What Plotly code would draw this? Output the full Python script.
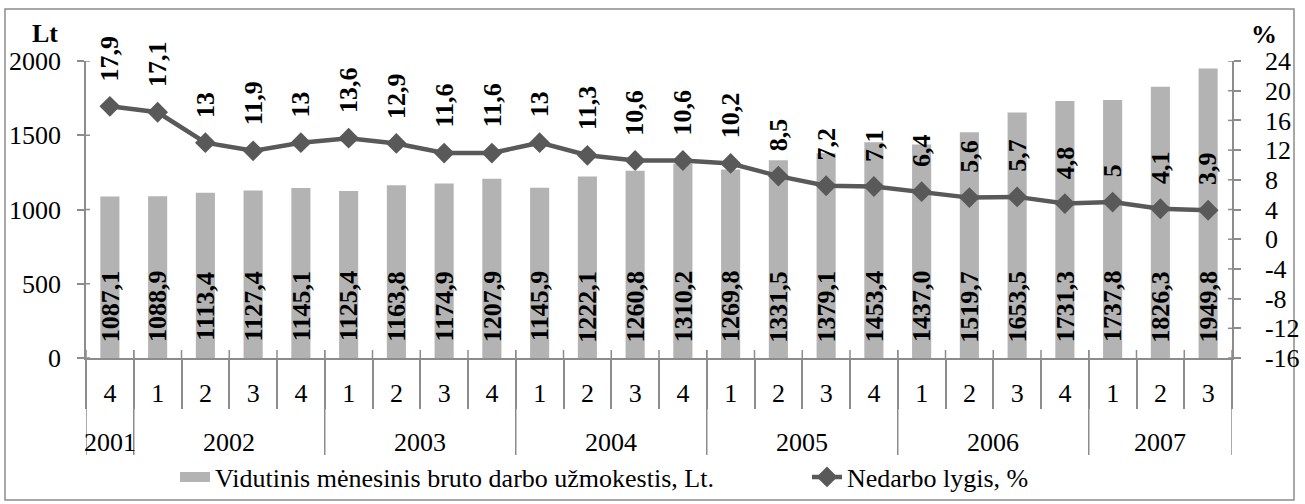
import plotly.graph_objects as go

# ---- data ----
years = ["2001", "2002", "2002", "2002", "2002", "2003", "2003", "2003", "2003",
         "2004", "2004", "2004", "2004", "2005", "2005", "2005", "2005",
         "2006", "2006", "2006", "2006", "2007", "2007", "2007"]
quarters = ["4", "1", "2", "3", "4", "1", "2", "3", "4", "1", "2", "3", "4",
            "1", "2", "3", "4", "1", "2", "3", "4", "1", "2", "3"]
wage = [1087.1, 1088.9, 1113.4, 1127.4, 1145.1, 1125.4, 1163.8, 1174.9, 1207.9,
        1145.9, 1222.1, 1260.8, 1310.2, 1269.8, 1331.5, 1379.1, 1453.4,
        1437.0, 1519.7, 1653.5, 1731.3, 1737.8, 1826.3, 1949.8]
unemp = [17.9, 17.1, 13, 11.9, 13, 13.6, 12.9, 11.6, 11.6, 13, 11.3, 10.6, 10.6,
         10.2, 8.5, 7.2, 7.1, 6.4, 5.6, 5.7, 4.8, 5, 4.1, 3.9]
left_ticks = [0, 500, 1000, 1500, 2000]
right_ticks = [-16, -12, -8, -4, 0, 4, 8, 12, 16, 20, 24]
right_ticktext = ["-16", "-12", "-8", "-4", "0", "4", "8", "12", "16", "20", "24"]
wage_name = "Vidutinis mėnesinis bruto darbo užmokestis, Lt."
unemp_name = "Nedarbo lygis, %"
left_unit = "Lt"
right_unit = "%"

# ---- style ----
W, H = 1305, 504
ML, MR, MT, MB = 86, 73, 61, 146
FONT = "Liberation Serif, Times New Roman, serif"
AX = "#8c8c8c"
BAR = "#b3b3b3"
LINE = "#595959"
LBL = 26  # data label font size

idx = list(range(len(wage)))
pw = W - ML - MR
ph = H - MT - MB


def px(x):
    return (x - ML) / pw


def py(y):
    return (H - MB - y) / ph


def text_len(s, size):
    # approximate advance width of a label made of digits and commas
    return sum(0.25 if c == "," else 0.5 for c in s) * size


fig = go.Figure()
fig.add_trace(go.Bar(x=idx, y=wage, name=wage_name, showlegend=False,
                     marker=dict(color=BAR, line=dict(width=0)), yaxis="y"))
fig.add_trace(go.Scatter(x=[None], y=[None], name=wage_name, mode="lines",
                         line=dict(color=BAR, width=13), yaxis="y", legend="legend"))
fig.add_trace(go.Scatter(x=idx, y=unemp, name=unemp_name,
                         mode="lines+markers", yaxis="y2", legend="legend2",
                         line=dict(color=LINE, width=4.5),
                         marker=dict(symbol="diamond", size=16, color=LINE)))

ann = []
for i, v in zip(idx, wage):
    s = f"{v:.1f}".replace(".", ",")
    ann.append(dict(x=i, y=0, xref="x", yref="y", text=s,
                    textangle=-90, showarrow=False, xanchor="center", yanchor="middle",
                    yshift=16 + text_len(s, LBL) / 2,
                    font=dict(family=FONT, size=LBL, color="black", weight="bold")))
for i, v in zip(idx, unemp):
    s = f"{v:g}".replace(".", ",")
    ann.append(dict(x=i, y=v, xref="x", yref="y2", text=s,
                    textangle=-90, showarrow=False, xanchor="center", yanchor="middle",
                    yshift=25 + text_len(s, LBL) / 2,
                    font=dict(family=FONT, size=LBL, color="black", weight="bold")))

# year groups: labels and dividers
groups = []
for i, y in zip(idx, years):
    if groups and groups[-1][0] == y:
        groups[-1][2] = i
    else:
        groups.append([y, i, i])

shapes = []
tick_line = dict(color=AX, width=1.5)
for y, a, b in groups:
    ann.append(dict(x=(a + b) / 2, y=py(442), xref="x", yref="paper", text=y,
                    showarrow=False, xanchor="center", yanchor="middle",
                    font=dict(family=FONT, size=26, color="black")))
    shapes.append(dict(type="line", xref="x", yref="paper", x0=a - 0.5, x1=a - 0.5,
                       y0=py(455), y1=py(350), line=tick_line))
shapes.append(dict(type="line", xref="x", yref="paper", x0=groups[-1][2] + 0.5,
                   x1=groups[-1][2] + 0.5, y0=py(455), y1=py(350), line=tick_line))
# inner halves of the crossing tick marks
for i in idx[:-1]:
    shapes.append(dict(type="line", xref="x", x0=i + 0.5, x1=i + 0.5,
                       yref="paper", ysizemode="pixel", yanchor=0, y0=0, y1=8, line=tick_line))
for t in left_ticks:
    shapes.append(dict(type="line", yref="y", y0=t, y1=t,
                       xref="paper", xsizemode="pixel", xanchor=0, x0=0, x1=4, line=tick_line))
for t in right_ticks:
    shapes.append(dict(type="line", yref="y2", y0=t, y1=t,
                       xref="paper", xsizemode="pixel", xanchor=1, x0=-4, x1=0, line=tick_line))

ann.append(dict(x=px(45), y=py(33), xref="paper", yref="paper", text=left_unit, showarrow=False,
                xanchor="center", yanchor="middle", height=22,
                font=dict(family=FONT, size=26, color="black", weight="bold")))
ann.append(dict(x=px(1264), y=py(34), xref="paper", yref="paper", text=right_unit, showarrow=False,
                xanchor="center", yanchor="middle", height=22,
                font=dict(family=FONT, size=26, color="black", weight="bold")))

shapes.append(dict(type="rect", xref="paper", yref="paper",
                   x0=px(5), x1=px(1294), y0=py(500), y1=py(9),
                   line=dict(color=AX, width=1.5), fillcolor="rgba(0,0,0,0)", layer="below"))

legend_common = dict(orientation="h", yanchor="middle", y=py(477), xanchor="left",
                     font=dict(family=FONT, size=26, color="black"),
                     bgcolor="rgba(0,0,0,0)", borderwidth=0)

fig.update_layout(
    width=W, height=H,
    margin=dict(l=ML, r=MR, t=MT, b=MB, autoexpand=False),
    paper_bgcolor="white", plot_bgcolor="white",
    font=dict(family=FONT, size=26, color="black"),
    bargap=0.6,
    showlegend=True,
    legend=dict(x=px(175), **legend_common),
    legend2=dict(x=px(807), **legend_common),
    xaxis=dict(range=[-0.5, len(wage) - 0.5], tickmode="array", tickvals=idx, ticktext=quarters,
               showline=True, linecolor=AX, linewidth=1.5, ticks="", ticklabelstandoff=11,
               minor=dict(tick0=0.5, dtick=1, ticks="outside", ticklen=49,
                          tickcolor=AX, tickwidth=1.5, showgrid=False),
               showgrid=False, zeroline=False,
               tickfont=dict(family=FONT, size=26, color="black")),
    yaxis=dict(range=[0, 2000], tickmode="array", tickvals=left_ticks,
               showline=True, linecolor=AX, linewidth=1.5,
               ticks="outside", ticklen=7, tickcolor=AX, tickwidth=1.5,
               showgrid=False, zeroline=False, ticklabelstandoff=11,
               tickfont=dict(family=FONT, size=26, color="black")),
    yaxis2=dict(range=[-16, 24], tickmode="array", tickvals=right_ticks, ticktext=right_ticktext,
                overlaying="y", side="right",
                showline=True, linecolor=AX, linewidth=1.5,
                ticks="outside", ticklen=7, tickcolor=AX, tickwidth=1.5,
                showgrid=False, zeroline=False, ticklabelstandoff=19,
                tickfont=dict(family=FONT, size=26, color="black")),
    annotations=ann,
    shapes=shapes,
)

fig.write_html("out.html", config={"displayModeBar": False},
               post_script="document.body.style.margin='0';document.body.style.overflow='hidden';")
